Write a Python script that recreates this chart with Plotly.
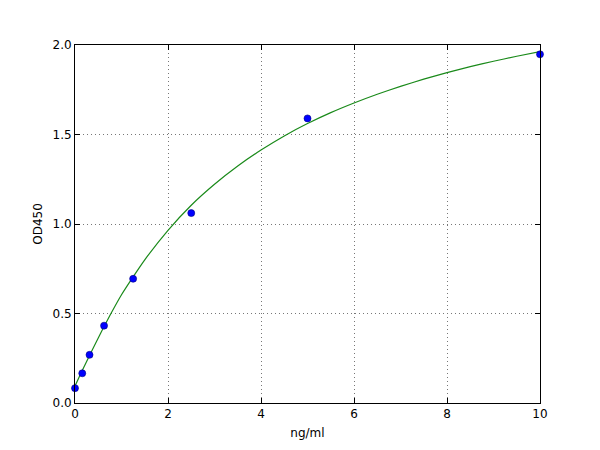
import plotly.graph_objects as go

# Standard points
conc = [0, 0.156, 0.3125, 0.625, 1.25, 2.5, 5, 10]
od450 = [0.083, 0.166, 0.269, 0.432, 0.694, 1.061, 1.59, 1.948]

# Fitted curve
curve_x = [0, 0.156, 0.3125, 0.5, 0.625, 0.767, 1, 1.25, 1.5, 2, 2.5, 3, 3.5, 4, 4.5, 5,
           5.5, 6, 6.5, 7, 7.5, 8, 8.5, 9, 9.5, 10]
curve_y = [0.095, 0.181, 0.265, 0.363, 0.427, 0.497, 0.605, 0.705, 0.80, 0.965, 1.105, 1.222,
           1.324, 1.413, 1.492, 1.561, 1.622, 1.676, 1.725, 1.769, 1.809, 1.846, 1.879, 1.909,
           1.937, 1.963]

x_ticks = [0, 2, 4, 6, 8, 10]
y_ticks = [0.0, 0.5, 1.0, 1.5, 2.0]

fig = go.Figure()
fig.add_trace(go.Scatter(x=curve_x, y=curve_y, mode="lines",
                         line=dict(color="#1a8a1a", width=1.2, shape="spline", smoothing=0.5),
                         hoverinfo="skip"))
fig.add_trace(go.Scatter(x=conc, y=od450, mode="markers",
                         marker=dict(color="#0000ff", size=7, line=dict(color="#000080", width=0.6)),
                         cliponaxis=False))

axis_common = dict(showline=True, linecolor="black", linewidth=1, mirror="ticks",
                   ticks="inside", ticklen=5, tickcolor="black",
                   showgrid=True, gridcolor="#777777", griddash="1px,3px", gridwidth=1,
                   zeroline=False, tickfont=dict(family="DejaVu Sans", size=12, color="black"))

fig.update_xaxes(range=[0, 10], tickvals=x_ticks,
                 title=dict(text="ng/ml", font=dict(family="DejaVu Sans", size=12, color="black"), standoff=8),
                 **axis_common)
fig.update_yaxes(range=[0, 2.0], tickvals=y_ticks, tickformat=".1f",
                 title=dict(text="OD450", font=dict(family="DejaVu Sans", size=12, color="black"), standoff=7),
                 **axis_common)

fig.update_layout(width=600, height=450, showlegend=False,
                  margin=dict(l=75, r=60, t=45, b=45, pad=0),
                  paper_bgcolor="white", plot_bgcolor="white",
                  font=dict(family="DejaVu Sans", size=12, color="black"))

fig.write_html("out.html", config={"displayModeBar": False},
               post_script="document.body.style.margin='0';")
